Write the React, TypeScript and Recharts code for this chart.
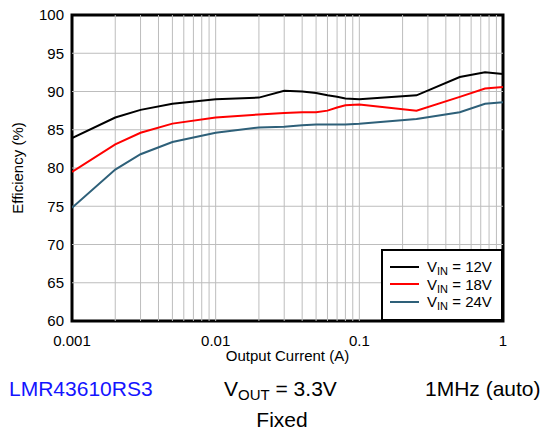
import React from "react";
import {
  LineChart,
  Line,
  XAxis,
  YAxis,
  ReferenceLine,
  ReferenceArea,
  Legend,
} from "recharts";

// output current (A)
const currents = [
  0.001, 0.002, 0.003, 0.005, 0.01, 0.02, 0.03, 0.04, 0.05, 0.06, 0.07, 0.08,
  0.1, 0.25, 0.5, 0.75, 1,
];
const vin12 = [
  83.9, 86.6, 87.6, 88.4, 89.0, 89.2, 90.1, 90.0, 89.8, 89.5, 89.3, 89.1, 89.0,
  89.5, 91.9, 92.5, 92.3,
];
const vin18 = [
  79.5, 83.1, 84.6, 85.8, 86.6, 87.0, 87.2, 87.3, 87.3, 87.5, 87.9, 88.2, 88.3,
  87.5, 89.3, 90.4, 90.6,
];
const vin24 = [
  74.8, 79.8, 81.8, 83.4, 84.6, 85.3, 85.4, 85.6, 85.7, 85.7, 85.7, 85.7, 85.8,
  86.4, 87.3, 88.4, 88.6,
];

const xTicks = [0.001, 0.01, 0.1, 1];
const yTicks = [60, 65, 70, 75, 80, 85, 90, 95, 100];
const xGrid = [2, 3, 4, 5, 6, 7, 8, 9, 10, 20, 30, 40, 50, 60, 70, 80, 90, 100, 200, 300, 400, 500, 600, 700, 800, 900].map(
  (m) => m / 1000
);
const yGrid = [65, 70, 75, 80, 85, 90, 95];

const series = [
  { key: "v12", label: "12V", color: "#000000", values: vin12 },
  { key: "v18", label: "18V", color: "#ff0000", values: vin18 },
  { key: "v24", label: "24V", color: "#2e6079", values: vin24 },
];

const data = currents.map((c, i) => ({
  i: c,
  v12: vin12[i],
  v18: vin18[i],
  v24: vin24[i],
}));

const FONT = "'Liberation Sans', Arial, sans-serif";

const renderLegend = () => (
  <div
    style={{
      boxSizing: "border-box",
      width: 122,
      height: 72,
      border: "2px solid #000",
      background: "#fff",
      padding: "7px 0 0 7px",
      fontFamily: FONT,
      fontSize: 15,
      color: "#000",
    }}
  >
    {series.map((s) => (
      <div
        key={s.key}
        style={{ display: "flex", alignItems: "center", height: 17.5 }}
      >
        <span
          style={{
            display: "inline-block",
            width: 29,
            height: 2,
            background: s.color,
            marginRight: 8,
          }}
        />
        <span style={{ whiteSpace: "nowrap", lineHeight: "17px" }}>
          V<sub style={{ fontSize: 11, verticalAlign: -3, lineHeight: 0 }}>IN</sub> = {s.label}
        </span>
      </div>
    ))}
  </div>
);

export default function App() {
  return (
    <div style={{ position: "absolute", left: 0, top: 0, width: 550, height: 433, background: "#fff" }}>
      <LineChart
        width={550}
        height={433}
        data={data}
        margin={{ top: 15, right: 47, bottom: 72, left: 0 }}
      >
        {xGrid.map((x) => (
          <ReferenceLine key={"gx" + x} x={x} stroke="#bdbdbd" strokeWidth={1} />
        ))}
        {yGrid.map((y) => (
          <ReferenceLine key={"gy" + y} y={y} stroke="#bdbdbd" strokeWidth={1} />
        ))}
        <XAxis
          dataKey="i"
          type="number"
          scale="log"
          domain={[0.001, 1]}
          ticks={xTicks}
          tickFormatter={(v) => String(v)}
          allowDataOverflow
          height={40}
          tickLine={false}
          axisLine={false}
          tickMargin={8}
          tick={{ fontSize: 15, fill: "#000", fontFamily: FONT }}
          label={{
            value: "Output Current (A)",
            position: "insideBottom",
            offset: 0,
            style: { fontSize: 15, fill: "#000", fontFamily: FONT },
          }}
        />
        <YAxis
          type="number"
          domain={[60, 100]}
          ticks={yTicks}
          width={72}
          tickLine={false}
          axisLine={false}
          tick={{ fontSize: 15, fill: "#000", fontFamily: FONT }}
        />
        {series.map((s) => (
          <Line
            key={s.key}
            dataKey={s.key}
            name={s.label}
            type="linear"
            stroke={s.color}
            strokeWidth={2}
            dot={false}
            isAnimationActive={false}
          />
        ))}
        <ReferenceArea
          x1={0.001}
          x2={1}
          y1={60}
          y2={100}
          fill="none"
          fillOpacity={0}
          stroke="#000"
          strokeWidth={3}
        />
        <Legend
          layout="horizontal"
          verticalAlign="middle"
          align="center"
          content={renderLegend}
          wrapperStyle={{ left: 381, top: 249, width: 122, height: 72 }}
        />
      </LineChart>
      <svg
        width={550}
        height={433}
        style={{ position: "absolute", left: 0, top: 0, pointerEvents: "none" }}
        fontFamily={FONT}
      >
        <text
          x={23}
          y={168}
          transform="rotate(-90 23 168)"
          textAnchor="middle"
          fontSize={15}
          fill="#000"
        >
          Efficiency (%)
        </text>
        <text x={9} y={396} fontSize={21} fill="#1414ff">
          LMR43610RS3
        </text>
        <text x={224} y={396} fontSize={21} fill="#000">
          V
          <tspan fontSize={15} dy={4}>
            OUT
          </tspan>
          <tspan dy={-4}> = 3.3V</tspan>
        </text>
        <text x={425} y={396} fontSize={21} fill="#000">
          1MHz (auto)
        </text>
        <text x={282} y={427} fontSize={21} fill="#000" textAnchor="middle">
          Fixed
        </text>
      </svg>
    </div>
  );
}
